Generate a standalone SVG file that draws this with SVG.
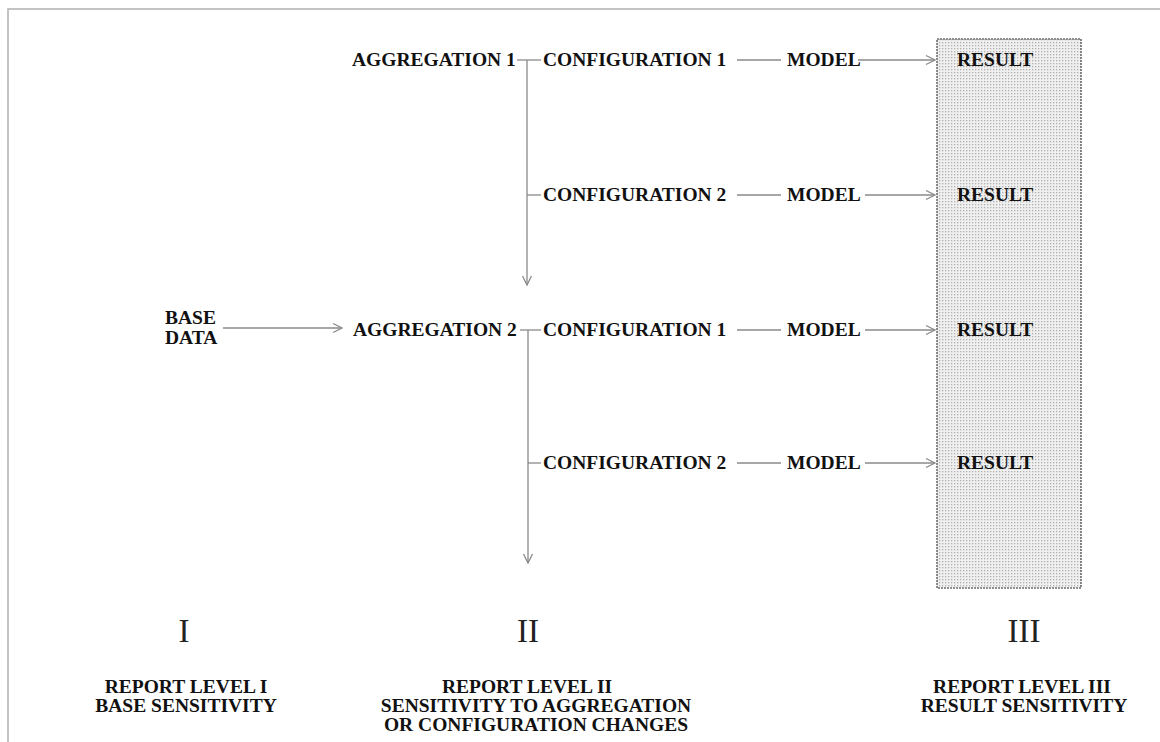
<svg xmlns="http://www.w3.org/2000/svg" width="1160" height="742" viewBox="0 0 1160 742">
<style>
.lbl{font-family:"Liberation Serif","Times New Roman",serif;font-weight:bold;font-size:19.5px;fill:#111}
.num{font-family:"Liberation Serif","Times New Roman",serif;font-size:33px;fill:#222}
.ln{stroke:#8a8a8a;stroke-width:1.3;fill:none}
.frame{stroke:#b0b0b0;stroke-width:1.5;fill:none}
</style>
<defs>
<pattern id="dots" width="3" height="3" patternUnits="userSpaceOnUse">
<rect width="3" height="3" fill="#f0f0f0"/>
<rect width="1.3" height="1.3" fill="#b0b0b0"/>
</pattern>
<marker id="ah" markerWidth="12" markerHeight="12" refX="10" refY="6" orient="auto" markerUnits="userSpaceOnUse">
<path d="M1,1.5 L10,6 L1,10.5" fill="none" stroke="#8a8a8a" stroke-width="1.3"/>
</marker>
</defs>
<rect width="1160" height="742" fill="#ffffff"/>
<path class="frame" d="M8,742 V9 H1160"/>
<g id="result-column">
<rect x="937" y="39" width="144" height="549" fill="url(#dots)" stroke="#6e6e6e" stroke-width="1.6" stroke-dasharray="2,1"/>
</g>
<g id="connectors">
<line class="ln" x1="223" y1="328" x2="342" y2="328" marker-end="url(#ah)"/>
<line class="ln" x1="517" y1="60" x2="541" y2="60"/>
<line class="ln" x1="527" y1="60" x2="527" y2="285" marker-end="url(#ah)"/>
<line class="ln" x1="527" y1="195" x2="541" y2="195"/>
<line class="ln" x1="520" y1="330" x2="541" y2="330"/>
<line class="ln" x1="528" y1="330" x2="528" y2="563" marker-end="url(#ah)"/>
<line class="ln" x1="528" y1="463" x2="541" y2="463"/>
<line class="ln" x1="737" y1="60" x2="781" y2="60"/>
<line class="ln" x1="737" y1="195" x2="781" y2="195"/>
<line class="ln" x1="737" y1="330" x2="781" y2="330"/>
<line class="ln" x1="737" y1="463" x2="781" y2="463"/>
<line class="ln" x1="858" y1="60" x2="935" y2="60" marker-end="url(#ah)"/>
<line class="ln" x1="865" y1="195" x2="935" y2="195" marker-end="url(#ah)"/>
<line class="ln" x1="865" y1="330" x2="935" y2="330" marker-end="url(#ah)"/>
<line class="ln" x1="865" y1="463" x2="935" y2="463" marker-end="url(#ah)"/>
</g>
<g id="base-data"><text class="lbl" x="165" y="324">BASE</text><text class="lbl" x="165" y="344">DATA</text></g>
<g id="aggregation-1"><text class="lbl" x="352" y="66">AGGREGATION 1</text></g>
<g id="aggregation-2"><text class="lbl" x="353" y="336">AGGREGATION 2</text></g>
<g id="configuration-1a"><text class="lbl" x="543" y="66">CONFIGURATION 1</text></g>
<g id="configuration-2a"><text class="lbl" x="543" y="201">CONFIGURATION 2</text></g>
<g id="configuration-1b"><text class="lbl" x="543" y="336">CONFIGURATION 1</text></g>
<g id="configuration-2b"><text class="lbl" x="543" y="469">CONFIGURATION 2</text></g>
<g id="model-1"><text class="lbl" x="787" y="66">MODEL</text></g>
<g id="model-2"><text class="lbl" x="787" y="201">MODEL</text></g>
<g id="model-3"><text class="lbl" x="787" y="336">MODEL</text></g>
<g id="model-4"><text class="lbl" x="787" y="469">MODEL</text></g>
<g id="result-1"><text class="lbl" x="957" y="66">RESULT</text></g>
<g id="result-2"><text class="lbl" x="957" y="201">RESULT</text></g>
<g id="result-3"><text class="lbl" x="957" y="336">RESULT</text></g>
<g id="result-4"><text class="lbl" x="957" y="469">RESULT</text></g>
<g id="level-1">
<text class="num" x="184" y="642" text-anchor="middle">I</text>
<text class="lbl" x="186" y="693" text-anchor="middle">REPORT LEVEL I</text>
<text class="lbl" x="186" y="712" text-anchor="middle">BASE SENSITIVITY</text>
</g>
<g id="level-2">
<text class="num" x="528" y="642" text-anchor="middle">II</text>
<text class="lbl" x="527" y="693" text-anchor="middle">REPORT LEVEL II</text>
<text class="lbl" x="536" y="712" text-anchor="middle">SENSITIVITY TO AGGREGATION</text>
<text class="lbl" x="536" y="731" text-anchor="middle">OR CONFIGURATION CHANGES</text>
</g>
<g id="level-3">
<text class="num" x="1024" y="642" text-anchor="middle">III</text>
<text class="lbl" x="1022" y="693" text-anchor="middle">REPORT LEVEL III</text>
<text class="lbl" x="1024" y="712" text-anchor="middle">RESULT SENSITIVITY</text>
</g>
</svg>
